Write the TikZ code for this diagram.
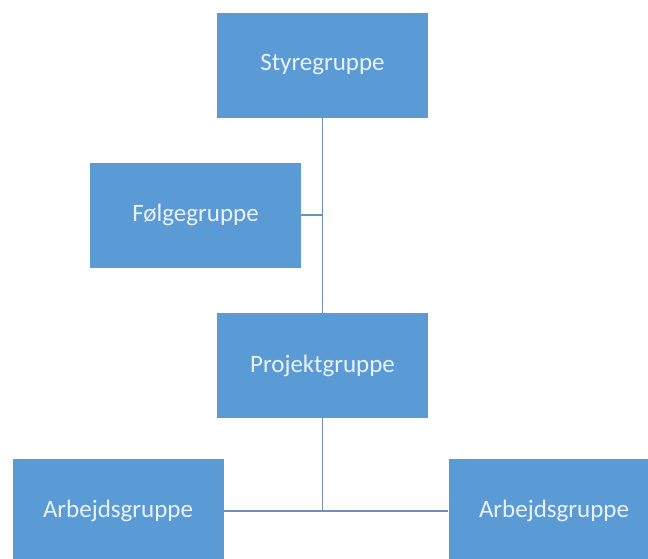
\documentclass[tikz,border=0pt]{standalone}
\usepackage{fontspec}
\setmainfont{Carlito}
\usepackage{tikz}
\usetikzlibrary{shapes,arrows,positioning}

\definecolor{boxblue}{HTML}{5B9BD5}
\definecolor{boxtext}{HTML}{EAF1FA}
\definecolor{linkgray}{HTML}{6F8FB8}

\begin{document}
\begin{tikzpicture}[x=1pt, y=1pt]
    \tikzstyle{group} = [rectangle, fill=boxblue, text=boxtext, minimum width=211pt, minimum height=105pt, inner sep=0pt, font=\fontsize{25}{29}\selectfont]
    \tikzstyle{link} = [draw=linkgray, line width=1.2pt]

    \clip (0,0) rectangle (648,-558);
    \fill[white] (0,0) rectangle (648,-558);

    \node [group] (styre) at (322.5,-65) {Styregruppe};
    \node [group, below of=styre, node distance=150pt, xshift=-127pt] (foelge) {Følgegruppe};
    \node [group, below of=styre, node distance=300.5pt] (projekt) {Projektgruppe};
    \node [group, below of=projekt, node distance=145.5pt, xshift=-204.5pt] (arb1) {Arbejdsgruppe};
    \node [group, below of=projekt, node distance=145.5pt, xshift=231.5pt] (arb2) {Arbejdsgruppe};

    \coordinate (fjoin) at (foelge -| styre);

    \path [link] (styre) -- (projekt);
    \path [link] (foelge) -- (fjoin);
    \path [link] (projekt) |- (arb1);
    \path [link] (projekt) |- (arb2);
\end{tikzpicture}
\end{document}
